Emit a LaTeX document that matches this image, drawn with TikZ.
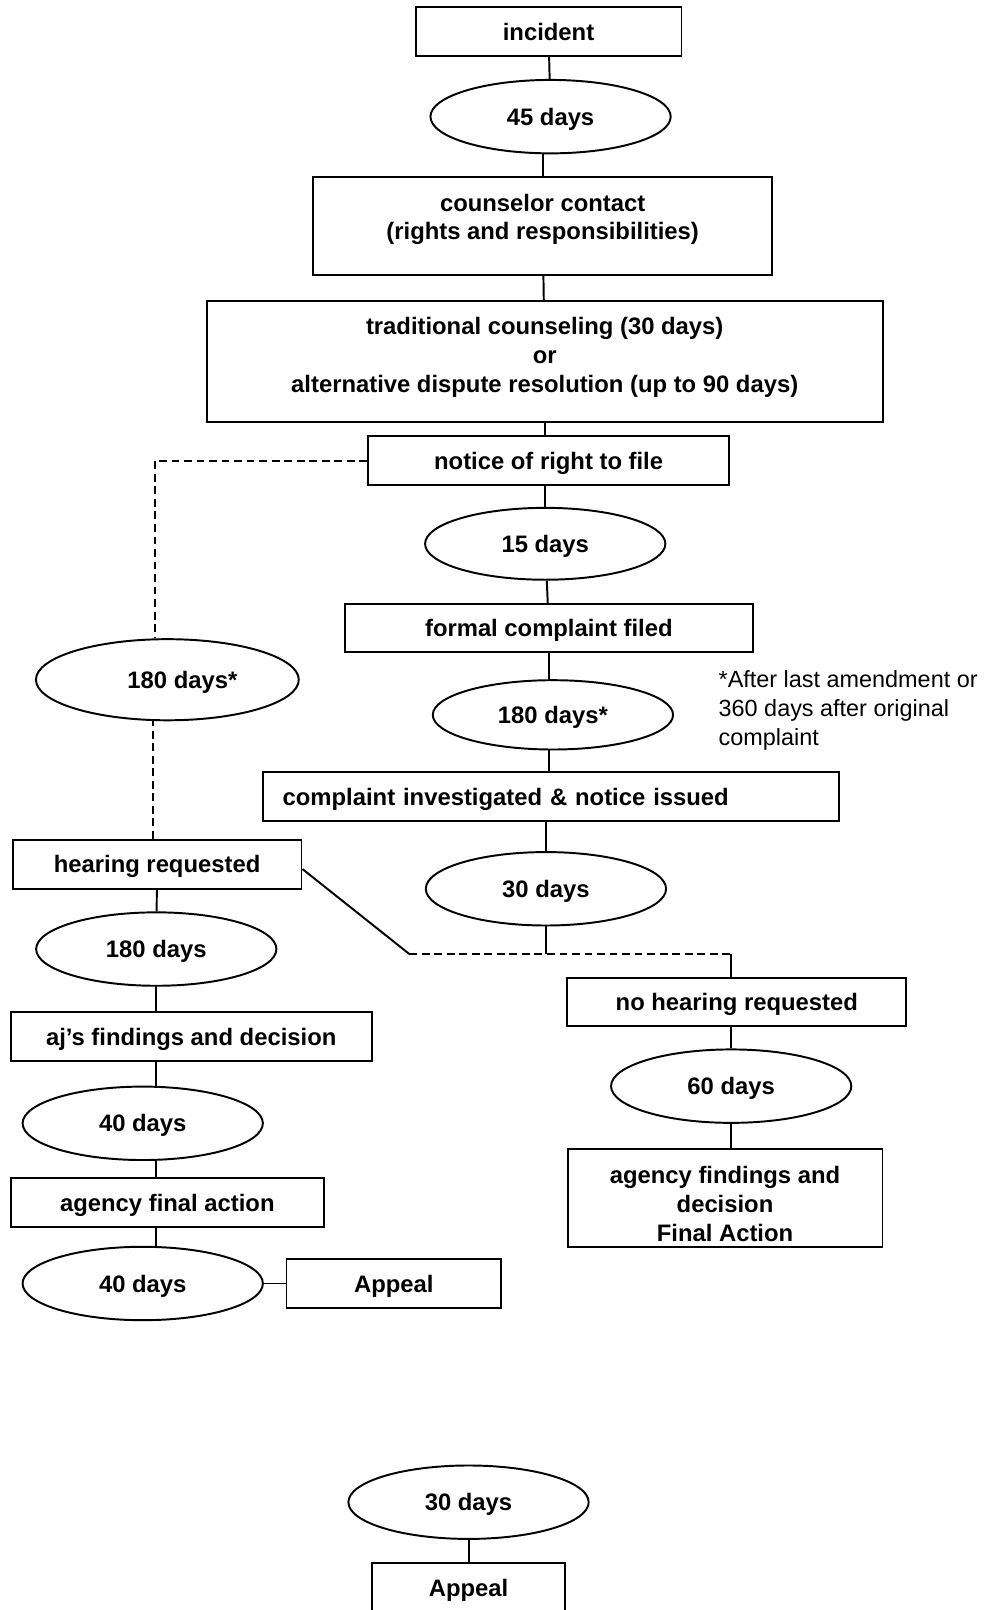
\documentclass[tikz,border=0pt]{standalone}
\usepackage{fontspec}
\setmainfont{Liberation Sans}
\usetikzlibrary{shapes.geometric,positioning}

\begin{document}
\begin{tikzpicture}[line width=0.95pt,node distance=41pt,
	stage/.style={rectangle,draw,inner sep=0pt,align=center,text depth=0pt,font=\fontsize{11.6}{14}\selectfont\bfseries},
	period/.style={ellipse,draw,inner sep=0pt,minimum width=117pt,minimum height=35.75pt,text depth=0pt,font=\fontsize{11.6}{14}\selectfont\bfseries},
	gap/.style={dash pattern=on 3.8pt off 2.3pt}]

	\useasboundingbox (0,0) rectangle (480.5pt,-784pt);

	% main column
	\node[stage, minimum width=129.5pt, minimum height=23.7pt] (incident) at (267.1pt,-15.4pt) {incident};
	\node[period] (d45) [below of=incident, node distance=41.4pt, xshift=1pt] {45 days};
	\node[stage, minimum width=223.4pt, minimum height=47.5pt, text height=41.5pt] (counselor) [below of=d45, node distance=53.3pt, xshift=-3.85pt] {counselor contact\\(rights and responsibilities)\\~};
	\node[stage, minimum width=329.25pt, minimum height=59.25pt, text depth=6.4pt] (trad) [below of=counselor, node distance=66pt, xshift=1pt] {traditional counseling (30 days)\\or\\alternative dispute resolution (up to 90 days)};
	\node[stage, minimum width=175.7pt, minimum height=24.2pt] (notice) [below of=trad, node distance=48.2pt, xshift=1.9pt] {notice of right to file};
	\node[period, minimum height=35pt] (d15) [below of=notice, node distance=40.5pt, xshift=-1.65pt] {15 days};
	\node[stage, minimum width=198.5pt, minimum height=23.5pt] (formal) [below of=d15, node distance=41pt, xshift=1.75pt] {formal complaint filed};
	\node[period, minimum height=33.75pt] (d180b) [below of=formal, node distance=42.3pt, xshift=2pt] {180 days*};
	\node[stage, inner xsep=9.65pt, text width=261.2pt, align=left, minimum height=23.85pt] (invest) [below of=d180b, node distance=39.9pt, xshift=-1pt] {complaint investigated \& notice issued};
	\node[period] (d30) [below of=invest, node distance=44.8pt, xshift=-2.4pt] {30 days};

	% no hearing branch
	\node[stage, minimum width=165pt, minimum height=23.5pt] (nohear) [below of=d30, node distance=55.1pt, xshift=92.95pt] {no hearing requested};
	\node[period] (d60) [below of=nohear, node distance=41pt, xshift=-2.75pt] {60 days};
	\node[stage, minimum width=153.35pt, minimum height=47.5pt, text height=42pt] (agency) [below of=d60, node distance=54.5pt, xshift=-3pt] {agency findings and\\decision\\Final Action};

	% hearing branch
	\node[period, minimum width=128pt, minimum height=39.5pt] (d180a) at (81.5pt,-331pt) {\hspace*{14.7pt}180 days*};
	\node[stage, minimum width=140.65pt, minimum height=23.85pt] (hearing) [below of=d180a, node distance=89.85pt, xshift=-5pt] {hearing requested};
	\node[period] (d180c) [below of=hearing, node distance=41.3pt, xshift=-0.4pt] {180 days};
	\node[stage, minimum width=175.75pt, minimum height=23.85pt] (ajs) [below of=d180c, node distance=42.6pt, xshift=17pt] {aj’s findings and decision};
	\node[period] (d40a) [below of=ajs, node distance=42.25pt, xshift=-23.6pt] {40 days};
	\node[stage, minimum width=152.5pt, minimum height=24pt] (final) [below of=d40a, node distance=38.5pt, xshift=12pt] {agency final action};
	\node[period] (d40b) [below of=final, node distance=39.5pt, xshift=-12pt] {40 days};
	\node[stage, minimum width=104.5pt, minimum height=23.8pt] (appeal) [right of=d40b, node distance=122.25pt] {Appeal};

	\node[period] (d30b) at (228.15pt,-731.5pt) {30 days};
	\node[stage, minimum width=93.65pt, minimum height=24pt] (lastappeal) [below of=d30b, node distance=41.5pt] {Appeal};

	\node[align=left, inner sep=0pt, font=\fontsize{11.4}{14}\selectfont, anchor=west] (note) at (349.5pt,-346pt) {*After last amendment or\\360 days after original\\complaint};

	\coordinate (forkl) at (199.25pt,-464.5pt);
	\coordinate (forkr) at ([xshift=-2.75pt]nohear.north |- forkl);

	\path
		(incident) edge (d45)
		(counselor.north) edge (counselor.north |- d45.south)
		(counselor) edge (trad)
		(trad.south) edge (trad.south |- notice.north)
		(d15.north) edge (d15.north |- notice.south)
		(d15) edge (formal)
		(formal.south) edge (formal.south |- d180b.north)
		(formal.south |- d180b.south) edge (formal.south |- invest.north)
		(d30.north) edge (d30.north |- invest.south)
		(d30) edge (d30 |- forkl)

		(d60.north) edge (d60.north |- nohear.south)
		(d60.south) edge (d60.south |- agency.north)

		(hearing) edge (d180c)
		(d180c.south) edge (d180c.south |- ajs.north)
		(d180c.south |- ajs.south) edge (d180c.south |- d40a.north)
		(d180c.south |- d40a.south) edge (d180c.south |- final.north)
		(d180c.south |- final.south) edge (d180c.south |- d40b.north)
		(d40b) edge (appeal)

		(d30b) edge (lastappeal)
		;

	\draw[gap] (notice.west) -| ([xshift=-6pt]d180a.north);
	\draw[gap] ([xshift=-2pt]hearing.north) -- ([xshift=-2pt]hearing.north |- d180a.south);
	\draw ([yshift=-2.35pt]hearing.east) -- (forkl);
	\draw[gap] (forkl) -- (forkr);
	\draw (forkr) -- ([xshift=-2.75pt]nohear.north);

\end{tikzpicture}
\end{document}
